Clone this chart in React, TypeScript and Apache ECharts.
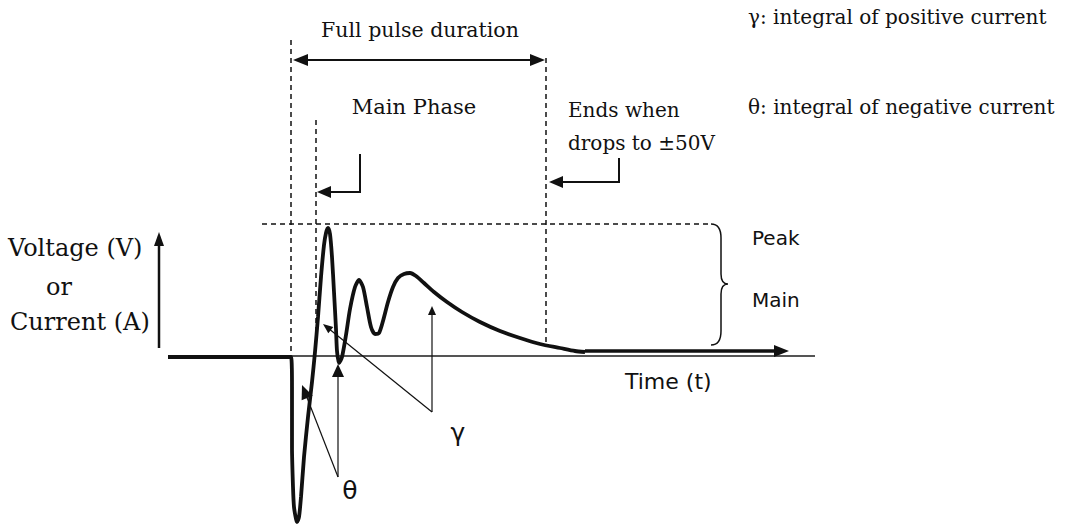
import React, { useEffect, useRef } from "react";
import * as echarts from "echarts";

// Schematic pulse waveform (time units, voltage units; 0 = baseline)
const timeValues = [
  168, 291, 292, 292, 293, 294, 296, 297, 299, 301, 304, 308, 312, 315, 318, 321, 324, 326, 328,
  330, 332, 334, 336, 337, 339, 342, 346, 350, 355, 359, 363, 367, 371, 375, 379, 383, 388,
  393, 398, 404, 410, 416, 424, 434, 447, 462, 480, 500, 520, 540, 560, 575, 585,
];
const voltageValues = [
  0, 0, -30, -90, -130, -150, -162, -165, -160, -140, -100, -60, -25, 5, 40, 80, 112, 124, 129,
  123, 100, 65, 28, 6, -6, 0, 22, 48, 70, 77, 70, 50, 30, 23, 24, 36, 55,
  70, 79, 83, 84, 81, 74, 65, 55, 45, 35, 26, 19, 13, 9, 6, 5,
];

const axisLabelLines = ["Voltage (V)", "or", "Current (A)"];
const legendTexts = ["γ: integral of positive current", "θ: integral of negative current"];

const SERIF = "DejaVu Serif";
const SANS = "DejaVu Sans";
const INK = "#111";

echarts.graphic.registerShape(
  "brace",
  echarts.graphic.extendPath(
    "M711 224 Q721 224 721 238 L721 274 Q721 284 728 284 Q721 284 721 294 L721 331 Q721 345 711 345",
    {}
  )
);

function line(x1: number, y1: number, x2: number, y2: number, lw = 1.5, dash?: number[], color = INK) {
  return {
    type: "line",
    shape: { x1, y1, x2, y2 },
    style: { stroke: color, lineWidth: lw, lineDash: dash },
    silent: true,
  };
}

function arrowHead(tx: number, ty: number, fx: number, fy: number, len = 13, half = 6) {
  const dx = tx - fx;
  const dy = ty - fy;
  const d = Math.sqrt(dx * dx + dy * dy) || 1;
  const ux = dx / d;
  const uy = dy / d;
  const bx = tx - ux * len;
  const by = ty - uy * len;
  return {
    type: "polygon",
    shape: {
      points: [
        [tx, ty],
        [bx - uy * half, by + ux * half],
        [bx + uy * half, by - ux * half],
      ],
    },
    style: { fill: INK },
    silent: true,
  };
}

function text(str: string, x: number, y: number, size: number, family: string, align = "left") {
  return {
    type: "text",
    style: {
      text: str,
      x,
      y,
      fill: INK,
      font: `${size}px "${family}"`,
      textAlign: align,
      textVerticalAlign: "middle",
    },
    silent: true,
  };
}

export default function App() {
  const ref = useRef<HTMLDivElement>(null);

  useEffect(() => {
    if (!ref.current) return;
    const chart = echarts.init(ref.current, null, { renderer: "svg" });
    const dash = [5, 4];
    const data = timeValues.map((t, i) => [t, voltageValues[i]]);

    chart.setOption({
      animation: false,
      backgroundColor: "#fff",
      grid: { left: 0, right: 0, top: 0, bottom: 0 },
      xAxis: { type: "value", min: 0, max: 1074, show: false },
      yAxis: { type: "value", min: -169, max: 357, show: false },
      series: [
        {
          type: "line",
          data,
          smooth: 0.25,
          showSymbol: false,
          lineStyle: { color: INK, width: 3.8 },
          z: 5,
        },
      ],
      graphic: [
        // dashed guides
        line(291, 40, 291, 356, 1.5, dash),
        line(316, 120, 316, 340, 1.5, dash),
        line(546, 58, 546, 343, 1.5, dash),
        line(262, 224, 711, 224, 1.5, dash),
        { type: "brace", shape: {}, style: { fill: null, stroke: INK, lineWidth: 1.5 }, silent: true },
        // full pulse duration double arrow
        line(300, 60, 538, 60, 2),
        arrowHead(293, 60, 310, 60, 15, 6),
        arrowHead(545, 60, 528, 60, 15, 6),
        // main phase bent arrow
        { type: "polyline", shape: { points: [[360, 154], [360, 192], [326, 192]] }, style: { stroke: INK, lineWidth: 2, fill: null }, silent: true },
        arrowHead(317, 192, 330, 192, 14, 6),
        // ends-when bent arrow
        { type: "polyline", shape: { points: [[619, 158], [619, 182], [558, 182]] }, style: { stroke: INK, lineWidth: 2, fill: null }, silent: true },
        arrowHead(549, 182, 562, 182, 14, 6),
        // axes
        line(168, 356, 815, 356, 2, undefined, "#555"),
        line(159, 348, 159, 245, 2.5),
        arrowHead(159, 232, 159, 248, 14, 5),
        line(585, 351, 776, 351, 3.5),
        arrowHead(789, 351, 774, 351, 15, 6),
        // gamma annotations
        line(432, 412, 328, 328, 1.2),
        arrowHead(323, 324, 333, 332, 10, 4),
        line(432, 412, 432, 312, 1.2),
        arrowHead(432, 306, 432, 316, 9, 4),
        // theta annotations
        line(338, 477, 338, 375, 1.2),
        arrowHead(338, 364, 338, 378, 13, 6),
        line(338, 477, 306, 395, 1.2),
        arrowHead(302, 385, 308, 400, 14, 6),
        // texts
        text("Full pulse duration", 420, 30, 20.5, SERIF, "center"),
        text("Main Phase", 414, 107, 21, SERIF, "center"),
        text("Ends when", 568, 110, 20, SERIF),
        text("drops to ±50V", 568, 143, 20, SERIF),
        text(legendTexts[0], 748, 17, 20, SERIF),
        text(legendTexts[1], 748, 107, 20, SERIF),
        text(axisLabelLines[0], 8, 248, 24, SERIF),
        text(axisLabelLines[1], 46, 287, 24, SERIF),
        text(axisLabelLines[2], 10, 322, 24, SERIF),
        text("Peak", 752, 238, 20, SANS),
        text("Main", 752, 300, 20, SANS),
        text("Time (t)", 625, 381, 22, SANS),
        text("γ", 458, 432, 25, SANS, "center"),
        text("θ", 350, 490, 25, SANS, "center"),
      ],
    });
    return () => chart.dispose();
  }, []);

  return (
    <div
      ref={ref}
      style={{ position: "absolute", left: 0, top: 0, width: 1074, height: 526 }}
    />
  );
}
